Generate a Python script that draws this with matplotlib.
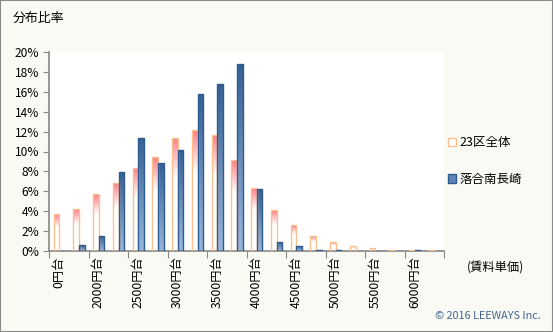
import numpy as np
import matplotlib.pyplot as plt
from matplotlib.patches import Patch, Rectangle

plt.rcParams['font.family'] = ['Noto Sans CJK JP', 'DejaVu Sans']

# Categories (rent per tsubo bands), label shown on every other one
categories = ['0円台', '1750円台', '2000円台', '2250円台', '2500円台', '2750円台',
              '3000円台', '3250円台', '3500円台', '3750円台', '4000円台', '4250円台',
              '4500円台', '4750円台', '5000円台', '5250円台', '5500円台', '5750円台',
              '6000円台', '6250円台']
ward_all = [3.7, 4.2, 5.7, 6.8, 8.3, 9.4, 11.4, 12.2, 11.7, 9.1,
            6.3, 4.1, 2.6, 1.5, 0.9, 0.5, 0.3, 0.1, 0.1, 0.1]   # 23区全体
ochiai = [0.0, 0.6, 1.5, 7.9, 11.4, 8.8, 10.2, 15.8, 16.8, 18.8,
          6.2, 0.9, 0.5, 0.1, 0.1, 0.0, 0.0, 0.0, 0.1, 0.0]     # 落合南長崎
yticks = [0, 2, 4, 6, 8, 10, 12, 14, 16, 18, 20]

W, H = 553, 332
fig = plt.figure(figsize=(W / 100, H / 100), dpi=100, facecolor='#f8faf3')
ax = fig.add_axes([49 / W, 1 - 251 / H, (444 - 49) / W, (251 - 52) / H])
ax.set_facecolor('white')

x = np.arange(len(categories))
bw = 0.28
b1 = ax.bar(x - 0.12, ward_all, bw, facecolor='none', edgecolor='#fac08f', linewidth=1.0, zorder=3)
b2 = ax.bar(x + 0.16, ochiai, bw, facecolor='none', edgecolor='#2f5c8f', linewidth=1.0, zorder=3)

# gradient fills clipped to each bar
n = 100
t = np.linspace(0, 1, n)[:, None]
pink = np.array([0.99, 0.50, 0.53])
f = np.clip(t / 0.35, 0, 1)
grad_pink = pink * (1 - f) + np.array([1, 1, 1]) * f
top_b = np.array([0x36, 0x5f, 0x93]) / 255
bot_b = np.array([0x98, 0xb6, 0xdb]) / 255
grad_blue = top_b * (1 - t) + bot_b * t

for bars, grad in ((b1, grad_pink), (b2, grad_blue)):
    for b in bars:
        h = b.get_height()
        if h <= 0:
            continue
        x0 = b.get_x()
        im = ax.imshow(grad[:, None, :], extent=[x0, x0 + b.get_width(), 0, h],
                       aspect='auto', zorder=2, interpolation='bilinear')
        im.set_clip_path(b)

ax.set_xlim(-0.5, len(categories) - 0.5)
ax.set_ylim(0, 20)
ax.set_yticks(yticks)
ax.set_yticklabels([f'{v}%' for v in yticks], fontsize=8.6)

ax.set_xticks(np.arange(-0.5, len(categories), 2))
ax.set_xticklabels([])
ax.set_xticks(x[::2], minor=True)
ax.set_xticklabels(categories[::2], minor=True, rotation=90, fontsize=8.8, va='top')
ax.tick_params(axis='x', which='minor', length=0, pad=4)
ax.tick_params(axis='x', which='major', length=5, color='#888888')
ax.tick_params(axis='y', length=4, color='#888888', pad=3)

for s in ('top', 'right'):
    ax.spines[s].set_visible(False)
for s in ('left', 'bottom'):
    ax.spines[s].set_color('#888888')
    ax.spines[s].set_linewidth(1.2)

handles = [Patch(facecolor='white', edgecolor='#fac08f', linewidth=1.0),
           Patch(facecolor='#5f86b8', edgecolor='#2f5c8f', linewidth=1.0)]
fig.legend(handles, ['23区全体', '落合南長崎'], loc='center left',
           bbox_to_anchor=(437 / W, 1 - 161 / H), frameon=False, fontsize=9,
           handlelength=0.65, handleheight=0.65, handletextpad=0.25, labelspacing=1.9)

fig.text(13 / W, 1 - 18 / H, '分布比率', fontsize=9.3, va='center', ha='left')
fig.text(467 / W, 1 - 268 / H, '(賃料単価)', fontsize=8.8, va='center', ha='left')
fig.text(541 / W, 1 - 316 / H, '© 2016 LEEWAYS Inc.', fontsize=7.8, color='#44678f',
         va='center', ha='right')

fig.add_artist(Rectangle((0, 0), 1, 1, transform=fig.transFigure, fill=False,
                         edgecolor='#8a8a8a', linewidth=1.5))

fig.savefig('out.png', dpi=100, facecolor=fig.get_facecolor())
